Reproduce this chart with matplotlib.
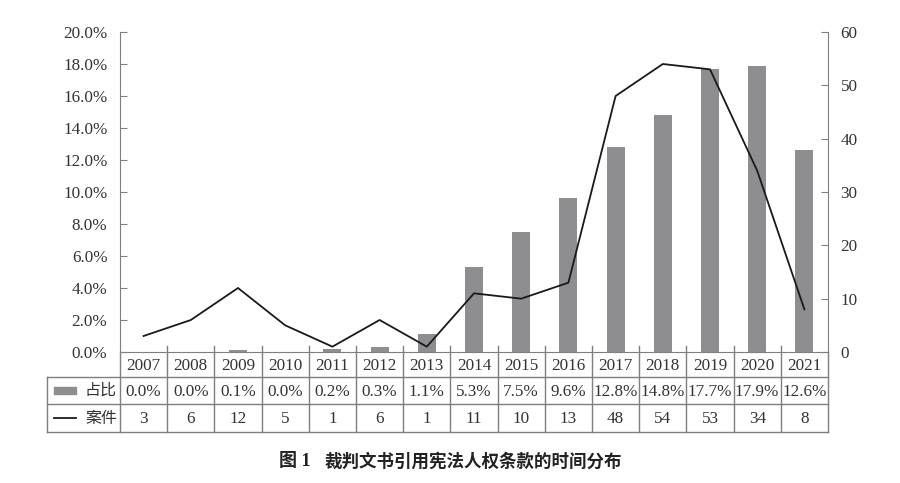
import matplotlib.pyplot as plt
from matplotlib.patches import Rectangle
from matplotlib.lines import Line2D

years = ["2007", "2008", "2009", "2010", "2011", "2012", "2013", "2014",
         "2015", "2016", "2017", "2018", "2019", "2020", "2021"]
share = [0.0, 0.0, 0.1, 0.0, 0.2, 0.3, 1.1, 5.3, 7.5, 9.6, 12.8, 14.8, 17.7, 17.9, 12.6]
cases = [3, 6, 12, 5, 1, 6, 1, 11, 10, 13, 48, 54, 53, 34, 8]
share_label = "占比"
cases_label = "案件"
caption_num = "图 1"
caption_text = "裁判文书引用宪法人权条款的时间分布"

serif = ["Liberation Serif", "Noto Sans CJK SC"]
cjk = ["Noto Sans CJK SC", "DejaVu Sans"]
txt_col = "#333333"
axis_col = "#7f7f7f"
bar_col = "#8e8e90"

W, H = 900, 483
fig = plt.figure(figsize=(9, 4.83), dpi=100)

x0, x1 = 120, 828
y_axis, y_top = 352, 32
ax = fig.add_axes([x0 / W, 1 - y_axis / H, (x1 - x0) / W, (y_axis - y_top) / H])
x = list(range(len(years)))
ax.bar(x, share, width=0.38, color=bar_col, zorder=2)
ax.set_xlim(-0.5, len(years) - 0.5)
ax.set_ylim(0, 20)
ax.set_yticks([0, 2, 4, 6, 8, 10, 12, 14, 16, 18, 20])
ax.set_yticklabels([f"{v:.1f}%" for v in ax.get_yticks()], family=serif,
                   fontsize=12.3, color=txt_col)
ax.set_xticks([])
ax.tick_params(axis="y", direction="in", length=5, color=axis_col, pad=9)
for s in ["top", "right"]:
    ax.spines[s].set_visible(False)
ax.spines["left"].set_color(axis_col)
ax.spines["bottom"].set_color(axis_col)

ax2 = ax.twinx()
ax2.plot(x, cases, color="#1a1a1a", lw=1.3, zorder=3)
ax2.set_ylim(0, 60)
ax2.set_yticks(range(0, 61, 10))
ax2.set_yticklabels([str(v) for v in range(0, 61, 10)], family=serif,
                    fontsize=12.3, color=txt_col)
ax2.tick_params(axis="y", direction="in", length=5, color=axis_col, pad=9)
for s in ["top", "left", "bottom"]:
    ax2.spines[s].set_visible(False)
ax2.spines["right"].set_color(axis_col)


# data table below the axis, placed in figure pixels
def px(xp, yp):
    return xp / W, 1 - yp / H


def hline(xa, xb, yp):
    fig.add_artist(Line2D([xa / W, xb / W], [1 - yp / H] * 2, color=axis_col, lw=1))


def vline(xp, ya, yb):
    fig.add_artist(Line2D([xp / W] * 2, [1 - ya / H, 1 - yb / H], color=axis_col, lw=1))


row_y = [352, 377, 404, 432]
tab_left = 47
colw = (x1 - x0) / len(years)
hline(tab_left, x1, row_y[1])
hline(tab_left, x1, row_y[2])
hline(tab_left, x1, row_y[3])
vline(tab_left, row_y[1], row_y[3])
vline(x0, row_y[0], row_y[3])
for i in range(1, len(years)):
    vline(x0 + i * colw, row_y[0] - 6, row_y[3])
vline(x1, row_y[0], row_y[3])

for i, yr in enumerate(years):
    cx = x0 + (i + 0.5) * colw
    fig.text(*px(cx, (row_y[0] + row_y[1]) / 2 + 1), yr, ha="center", va="center",
             family=serif, fontsize=12.3, color=txt_col)
    fig.text(*px(cx, (row_y[1] + row_y[2]) / 2 + 1), f"{share[i]:.1f}%", ha="center",
             va="center", family=serif, fontsize=12.3, color=txt_col)
    fig.text(*px(cx, (row_y[2] + row_y[3]) / 2 + 1), str(cases[i]), ha="center",
             va="center", family=serif, fontsize=12.3, color=txt_col)

ym1 = (row_y[1] + row_y[2]) / 2
ym2 = (row_y[2] + row_y[3]) / 2
fig.add_artist(Rectangle(px(54, ym1 + 3.5), 22 / W, 7 / H, color=bar_col))
fig.add_artist(Line2D([54 / W, 76 / W], [1 - ym2 / H] * 2, color="#1a1a1a", lw=1.3))
fig.text(*px(101, ym1), share_label, ha="center", va="center", family=cjk,
         fontsize=11.5, color=txt_col)
fig.text(*px(101, ym2), cases_label, ha="center", va="center", family=cjk,
         fontsize=11.5, color=txt_col)

fig.text(*px(295, 462), caption_num, ha="center", va="center", family=serif,
         fontsize=13, fontweight="bold", color="#222222")
fig.text(*px(473, 462), caption_text, ha="center", va="center", family=cjk,
         fontsize=12.6, fontweight="bold", color="#222222")

fig.savefig("out.png", dpi=100)
